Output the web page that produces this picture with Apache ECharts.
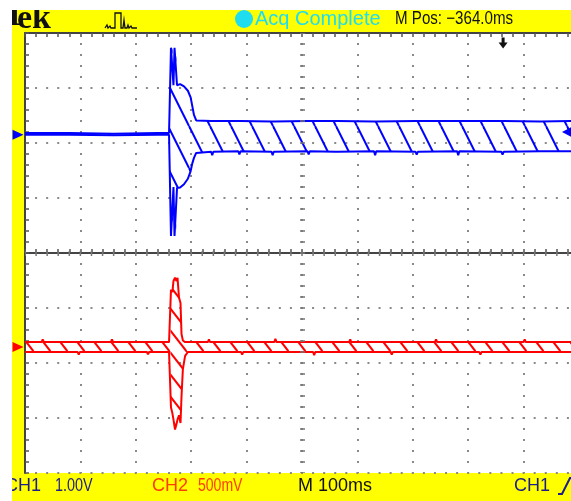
<!DOCTYPE html>
<html>
<head>
<meta charset="utf-8">
<script src="https://cdn.jsdelivr.net/npm/echarts@6/dist/echarts.min.js"></script>
<style>
  html, body { margin: 0; padding: 0; background: #fff; }
  #scope { width: 571px; height: 501px; }
</style>
</head>
<body>
<div id="scope"></div>
<script>
// time in divisions (M 100ms/div), peak-detect envelopes in volts
const ch1Time = [0, 0.8, 1.6, 2.4, 2.6, 2.635, 2.662, 2.68, 2.699, 2.726, 2.744, 2.8, 2.87, 2.94, 2.99, 3.02, 3.05, 3.09,
  3.36, 3.38, 3.4, 3.85, 3.87, 3.89, 4.45, 4.47, 4.49, 5.1, 5.12, 5.14, 5.6, 5.62, 5.64, 6.3, 6.32, 6.34,
  7.05, 7.07, 7.09, 7.8, 7.82, 7.84, 8.6, 8.62, 8.64, 9.3, 10];
const ch1Max = [0.03, 0.03, 0.02, 0.03, 0.03, 1.58, 1.58, 0.9, 1.58, 1.58, 0.9, 0.92, 0.88, 0.8, 0.68, 0.52, 0.36, 0.26,
  0.25, 0.25, 0.25, 0.25, 0.28, 0.25, 0.24, 0.24, 0.24, 0.25, 0.25, 0.25, 0.25, 0.28, 0.25, 0.24, 0.24, 0.24,
  0.25, 0.25, 0.25, 0.25, 0.27, 0.25, 0.25, 0.25, 0.25, 0.24, 0.25];
const ch1Min = [0, 0, -0.01, 0, 0, -1.84, -1.84, -0.95, -1.84, -1.84, -0.97, -0.96, -0.9, -0.8, -0.66, -0.52, -0.42, -0.33,
  -0.31, -0.37, -0.31, -0.3, -0.36, -0.3, -0.31, -0.37, -0.31, -0.3, -0.36, -0.3, -0.31, -0.31, -0.31, -0.3, -0.37, -0.3,
  -0.31, -0.36, -0.31, -0.3, -0.37, -0.3, -0.31, -0.36, -0.31, -0.3, -0.3];

const ch2Time = [0, 0.3, 0.32, 0.34, 0.95, 0.97, 0.99, 1.55, 1.57, 1.59, 2.2, 2.22, 2.24, 2.6,
  2.625, 2.635, 2.66, 2.68, 2.708, 2.735, 2.753, 2.78, 2.807, 2.825, 2.85, 2.89, 2.94,
  3.3, 3.32, 3.34, 3.9, 3.92, 3.94, 4.5, 4.52, 4.54, 5.2, 5.22, 5.24, 5.85, 5.87, 5.89,
  6.6, 6.62, 6.64, 7.4, 7.42, 7.44, 8.2, 8.22, 8.24, 9.0, 9.02, 9.04, 10];
const ch2Max = [0.045, 0.045, 0.07, 0.045, 0.045, 0.045, 0.045, 0.045, 0.07, 0.045, 0.045, 0.045, 0.045, 0.045,
  0.045, 0.52, 0.5, 0.6, 0.63, 0.6, 0.63, 0.45, 0.4, 0.12, 0.06, 0.045, 0.045,
  0.045, 0.07, 0.045, 0.045, 0.045, 0.045, 0.045, 0.075, 0.045, 0.045, 0.045, 0.045, 0.045, 0.07, 0.045,
  0.045, 0.045, 0.045, 0.045, 0.07, 0.045, 0.045, 0.045, 0.045, 0.045, 0.07, 0.045, 0.045];
const ch2Min = [-0.045, -0.045, -0.045, -0.045, -0.045, -0.07, -0.045, -0.045, -0.045, -0.045, -0.045, -0.065, -0.045, -0.045,
  -0.045, -0.55, -0.6, -0.66, -0.75, -0.7, -0.66, -0.62, -0.69, -0.45, -0.2, -0.08, -0.045,
  -0.045, -0.045, -0.045, -0.045, -0.07, -0.045, -0.045, -0.045, -0.045, -0.045, -0.075, -0.045, -0.045, -0.045, -0.045,
  -0.045, -0.07, -0.045, -0.045, -0.045, -0.045, -0.045, -0.07, -0.045, -0.045, -0.045, -0.045, -0.045];

// channel settings: volts/div and ground position in divisions from centre
const CH1_VDIV = 1.0, CH1_POS = 2.15;
const CH2_VDIV = 0.5, CH2_POS = -1.71;
const TRIG_LEVEL = 0.05; // CH1 volts
const TRIG_POS = 8.63;   // divisions

const BLUE = "#0000ff";
const RED = "#ff0000";
const CH1_TEXT = "#1c1c8c";
const CH2_TEXT = "#ff3c00";
const GRID_DOT = "#8a8a8a";
const SCOPE_FONT = "18px 'Liberation Sans'";

// diagonal hatch like the aliased trace fill
function hatch(color, w, h, lw) {
  const c = document.createElement("canvas");
  c.width = w;
  c.height = h;
  const ctx = c.getContext("2d");
  ctx.strokeStyle = color;
  ctx.lineWidth = lw;
  for (let k = -1; k <= 1; k++) {
    ctx.beginPath();
    ctx.moveTo(k * w, 0);
    ctx.lineTo(k * w + w, h);
    ctx.stroke();
  }
  return c;
}

function toDiv(v, vdiv, pos) {
  return v / vdiv + pos;
}

function bandSeries(time, max, min, vdiv, pos, pattern) {
  return {
    type: "custom",
    silent: true,
    clip: true,
    z: 2,
    data: [[0, 0]],
    renderItem: (params, api) => {
      const pts = [];
      time.forEach((t, i) => pts.push(api.coord([t, toDiv(max[i], vdiv, pos)])));
      for (let i = time.length - 1; i >= 0; i--) pts.push(api.coord([time[i], toDiv(min[i], vdiv, pos)]));
      return {
        type: "polygon",
        shape: { points: pts },
        style: { fill: { image: pattern, repeat: "repeat" }, stroke: null },
      };
    },
  };
}

function traceSeries(time, vals, vdiv, pos, color) {
  return {
    type: "line",
    data: time.map((t, i) => [t, toDiv(vals[i], vdiv, pos)]),
    symbol: "none",
    showSymbol: false,
    silent: true,
    clip: true,
    z: 3,
    lineStyle: { color: color, width: 2 },
  };
}

// scope readout text, squeezed horizontally where the Tek font is narrow
function readout(text, x, y, color, sx, font) {
  return {
    type: "text", z: 50, x: x, y: y, scaleX: sx || 1, scaleY: 1,
    style: { text: text, x: 0, y: 0, font: font || SCOPE_FONT, fill: color, textVerticalAlign: "middle" },
  };
}

const edgeAxis = {
  type: "value",
  axisLine: { show: true, lineStyle: { color: "#444", width: 2 } },
  axisTick: { show: true, inside: true, length: 4, lineStyle: { color: "#555", width: 1.5 } },
  minorTick: { show: true, splitNumber: 5, length: 4, lineStyle: { color: "#555", width: 1.5 } },
  axisLabel: { show: false },
};

const chart = echarts.init(document.getElementById("scope"));

chart.setOption({
  animation: false,
  backgroundColor: "#ffff00",
  grid: {
    left: 25, top: 33, width: 554, height: 440,
    show: true, backgroundColor: "#fff", borderWidth: 0,
    outerBoundsMode: "none",
  },
  xAxis: [
    Object.assign({}, edgeAxis, {
      min: 0, max: 10, interval: 1, position: "bottom",
      splitLine: { show: true, lineStyle: { color: GRID_DOT, width: 2, type: [2, 9], dashOffset: 1 } },
    }),
    Object.assign({}, edgeAxis, { min: 0, max: 10, interval: 1, position: "top", splitLine: { show: false } }),
  ],
  yAxis: [
    Object.assign({}, edgeAxis, {
      min: -4, max: 4, interval: 1, position: "left",
      splitLine: { show: true, lineStyle: { color: GRID_DOT, width: 2, type: [2, 9.08], dashOffset: 1 } },
    }),
  ],
  series: [
    {
      // centre cross ticks and screen markers
      type: "line",
      data: [],
      silent: true,
      clip: false,
      z: 1,
      markLine: {
        silent: true,
        symbol: "none",
        label: { show: false },
        animation: false,
        data: [
          { xAxis: 5, lineStyle: { color: "#777", width: 5, type: [1.5, 9.5], dashOffset: 0.75 } },
          { yAxis: 0, lineStyle: { color: "#777", width: 5, type: [1.5, 9.58], dashOffset: 0.75 } },
        ],
      },
      markPoint: {
        silent: true,
        label: { show: false },
        animation: false,
        data: [
          { coord: [0, CH1_POS], symbol: "triangle", symbolRotate: -90, symbolSize: [10, 11], symbolOffset: [-7, 0], itemStyle: { color: BLUE } },
          { coord: [0, CH2_POS], symbol: "triangle", symbolRotate: -90, symbolSize: [10, 11], symbolOffset: [-7, 0], itemStyle: { color: RED } },
          { coord: [10, toDiv(TRIG_LEVEL, CH1_VDIV, CH1_POS)], symbol: "triangle", symbolRotate: 90, symbolSize: [15, 14], symbolOffset: [-10, 0], itemStyle: { color: BLUE } },
          { coord: [TRIG_POS, 4], symbol: "path://M3,0 L6,0 L6,5 L9,5 L4.5,11 L0,5 L3,5 Z", symbolSize: [9, 11], symbolOffset: [0, 10], itemStyle: { color: "#111" } },
        ],
      },
    },
    bandSeries(ch1Time, ch1Max, ch1Min, CH1_VDIV, CH1_POS, hatch(BLUE, 21, 42, 2)),
    traceSeries(ch1Time, ch1Max, CH1_VDIV, CH1_POS, BLUE),
    traceSeries(ch1Time, ch1Min, CH1_VDIV, CH1_POS, BLUE),
    bandSeries(ch2Time, ch2Max, ch2Min, CH2_VDIV, CH2_POS, hatch(RED, 17, 22, 2)),
    traceSeries(ch2Time, ch2Max, CH2_VDIV, CH2_POS, RED),
    traceSeries(ch2Time, ch2Min, CH2_VDIV, CH2_POS, RED),
  ],
  graphic: [
    // Tek logo, top of the letters cut by the white margin
    { type: "text", z: 50, style: { text: "T", x: 3, y: 33, font: "bold 34px 'Liberation Serif'", fill: "#111", textVerticalAlign: "bottom" } },
    { type: "text", z: 51, style: { text: "ek", x: 17, y: 36, font: "bold 34px 'Liberation Serif'", fill: "#111", textVerticalAlign: "bottom" } },
    {
      type: "polyline", z: 50,
      shape: { points: [[105, 28], [107, 25], [108, 28], [110, 26], [111, 28], [115, 28], [115, 13], [121, 13], [121, 28], [123, 28], [124, 20], [125, 28], [127, 28], [128, 25], [129, 28], [131, 26], [132, 28], [137, 28]] },
      style: { stroke: "#111", lineWidth: 1.3, fill: null },
    },
    { type: "circle", z: 50, shape: { cx: 244, cy: 19, r: 9 }, style: { fill: "#20dcef" } },
    readout("Acq Complete", 255, 19, "#20dcef", 1, "20px 'Liberation Sans'"),
    readout("M Pos: \u2212364.0ms", 395, 19, "#111", 0.84),
    readout("CH1", 5, 486, CH1_TEXT),
    readout("1.00V", 55, 486, CH1_TEXT, 0.8),
    readout("CH2", 152, 486, CH2_TEXT),
    readout("500mV", 198, 486, CH2_TEXT, 0.78),
    readout("M 100ms", 298, 486, "#111"),
    readout("CH1", 514, 486, CH1_TEXT),
    { type: "polyline", z: 50, shape: { points: [[558, 494], [562, 494], [570, 478], [574, 478]] }, style: { stroke: CH1_TEXT, lineWidth: 2, fill: null } },
    // white margins of the screenshot
    { type: "rect", z: 100, shape: { x: 0, y: 0, width: 571, height: 10 }, style: { fill: "#fff" } },
    { type: "rect", z: 100, shape: { x: 0, y: 0, width: 12, height: 501 }, style: { fill: "#fff" } },
  ],
});
</script>
</body>
</html>
